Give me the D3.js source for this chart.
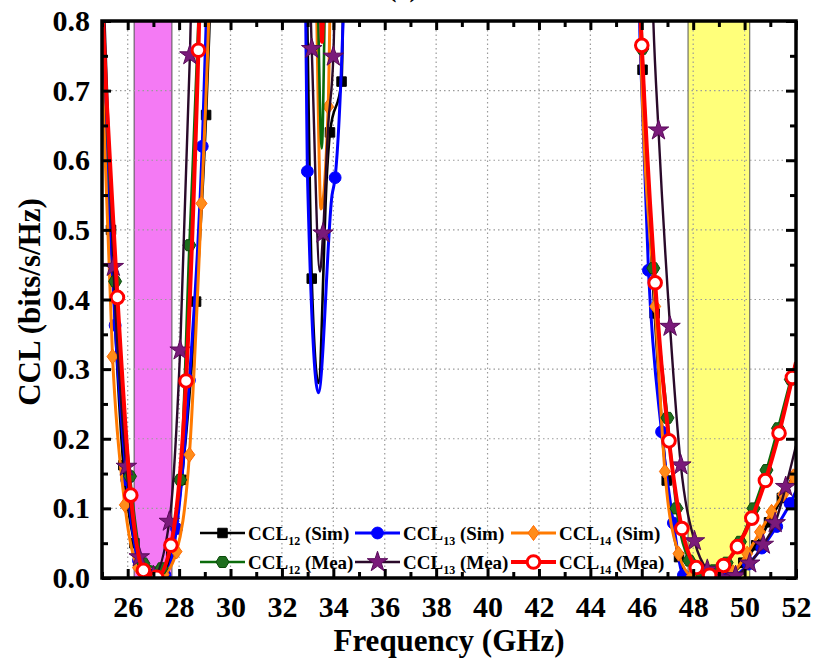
<!DOCTYPE html>
<html>
<head>
<meta charset="utf-8">
<script src="https://cdn.jsdelivr.net/npm/d3@7"></script>
<style>
  html, body { margin: 0; padding: 0; background: #fff; }
  svg { display: block; font-family: "Liberation Serif", "Times New Roman", serif; font-weight: bold; }
</style>
</head>
<body>
<svg id="chart" width="815" height="663"></svg>
<script>
// Axis ticks
const xMajorTicks = [26, 28, 30, 32, 34, 36, 38, 40, 42, 44, 46, 48, 50, 52];
const xMinorTicks = [25, 27, 29, 31, 33, 35, 37, 39, 41, 43, 45, 47, 49, 51];
const yMajorTicks = [0.0, 0.1, 0.2, 0.3, 0.4, 0.5, 0.6, 0.7, 0.8];
const yMinorTicks = [0.05, 0.15, 0.25, 0.35, 0.45, 0.55, 0.65, 0.75];

// Operating bands (GHz)
const bandLow = [26.25, 27.72];
const bandHigh = [47.8, 50.2];

// Series points: [frequency GHz, CCL bits/s/Hz, marker shown (1) or not (0)]
const ccl12Sim = [
  [24.9,1.0,0],[25.08,0.78,0],[25.35,0.50,1],[25.83,0.162,1],[26.26,0.05,1],[26.75,0.006,1],[27.25,0.0,1],[27.7,0.035,1],
  [28.1,0.141,1],[28.66,0.397,1],[29.05,0.665,1],[29.17,0.78,0],[29.35,1.0,0],
  [32.85,1.0,0],[33.16,0.43,1],[33.42,0.28,0],[33.75,0.58,0],[33.87,0.64,1],[34.32,0.713,1],[34.45,0.95,0],
  [45.8,1.0,0],[46.03,0.73,1],[46.5,0.38,1],[46.97,0.14,1],[47.45,0.03,1],[47.95,0.0,1],[48.45,0.0,1],[48.95,0.0,1],
  [49.45,0.005,1],[49.95,0.022,1],[50.45,0.047,1],[50.95,0.08,1],[51.45,0.115,1],[52.0,0.155,0]
];
const ccl13Sim = [
  [24.85,0.86,0],[25.03,0.72,0],[25.51,0.363,1],[25.96,0.141,1],[26.42,0.025,1],[26.93,0.0,1],[27.45,0.004,1],[27.9,0.071,1],
  [28.4,0.284,1],[28.9,0.62,1],[29.1,0.85,0],[29.3,1.0,0],
  [32.85,1.0,0],[32.95,0.72,0],[32.99,0.584,1],[33.42,0.266,0],[33.95,0.55,0],[34.07,0.575,1],[34.38,0.80,0],[34.5,0.95,0],
  [45.75,1.0,0],[45.95,0.75,0],[46.26,0.442,1],[46.77,0.21,1],[47.23,0.079,1],[47.62,0.004,1],[48.1,0.0,1],[48.6,0.0,1],
  [49.1,0.0,1],[49.6,0.003,1],[50.15,0.02,1],[50.67,0.043,1],[51.25,0.074,1],[51.77,0.107,1],[52.0,0.125,0]
];
const ccl14Sim = [
  [24.9,0.78,0],[25.05,0.678,0],[25.41,0.318,1],[25.89,0.105,1],[26.4,0.015,1],[26.9,0.0,1],[27.4,0.005,1],[27.9,0.038,1],
  [28.4,0.177,1],[28.87,0.538,1],[29.15,0.80,0],[29.3,1.0,0],
  [33.25,0.95,0],[33.52,0.53,0],[33.8,0.677,1],[33.95,0.95,0],
  [45.8,1.0,0],[45.97,0.75,0],[46.52,0.39,1],[46.9,0.153,1],[47.43,0.035,1],[47.95,0.003,1],[48.5,0.0,1],[49.0,0.0,1],
  [49.55,0.008,1],[50.1,0.035,1],[50.6,0.066,1],[51.05,0.095,1],[51.5,0.12,1],[51.9,0.146,1],[52.0,0.155,0]
];
const ccl12Mea = [
  [24.9,1.0,0],[25.05,0.80,0],[25.51,0.426,1],[26.09,0.146,1],[26.61,0.021,1],[27.32,0.014,1],[28.04,0.141,1],
  [28.4,0.478,1],[28.75,0.80,0],[29.0,1.1,0],
  [33.3,0.95,0],[33.55,0.617,0],[33.75,0.95,0],
  [45.8,1.0,0],[46.02,0.76,1],[46.45,0.445,1],[47.0,0.23,1],[47.35,0.10,1],[47.85,0.025,1],[48.3,0.008,1],[48.8,0.011,1],
  [49.3,0.022,1],[49.82,0.052,1],[50.35,0.10,1],[50.85,0.155,1],[51.3,0.215,1],[51.8,0.285,1],[52.0,0.31,0]
];
const ccl13Mea = [
  [24.95,1.0,0],[25.1,0.80,0],[25.44,0.447,1],[25.95,0.16,1],[26.45,0.03,1],[27.0,0.003,1],[27.62,0.081,1],
  [28.04,0.327,1],[28.42,0.751,1],[28.6,1.0,0],
  [32.95,1.0,0],[33.16,0.76,1],[33.48,0.44,0],[33.6,0.495,1],[33.8,0.65,0],[34.0,0.749,1],[34.15,0.95,0],
  [46.3,1.0,0],[46.45,0.80,0],[46.65,0.643,1],[47.1,0.361,1],[47.52,0.162,1],[48.05,0.053,1],[48.55,0.012,1],[49.1,0.0,1],
  [49.65,0.003,1],[50.2,0.021,1],[50.73,0.048,1],[51.19,0.079,1],[51.6,0.131,1],[52.0,0.19,0]
];
const ccl14Mea = [
  [24.9,0.92,0],[25.16,0.70,0],[25.6,0.403,1],[26.12,0.119,1],[26.61,0.011,1],[27.13,0.001,1],[27.68,0.047,1],
  [28.27,0.283,1],[28.75,0.758,1],[29.0,1.1,0],
  [33.45,0.95,0],[33.56,0.77,0],[33.68,0.95,0],
  [45.8,0.95,0],[46.0,0.765,1],[46.52,0.424,1],[47.06,0.197,1],[47.56,0.071,1],[48.12,0.015,1],[48.64,0.004,1],
  [49.18,0.018,1],[49.72,0.045,1],[50.28,0.086,1],[50.81,0.140,1],[51.34,0.208,1],[51.86,0.288,1],[52.0,0.31,0]
];

// Series styling, in drawing order (last drawn on top)
const series = [
  { name: "12", tag: "(Sim)", data: ccl12Sim, line: "#000000", fill: "#000000", stroke: "#000000", symbol: "square", width: 2.6 },
  { name: "13", tag: "(Sim)", data: ccl13Sim, line: "#0000ff", fill: "#0000ff", stroke: "#0000ff", symbol: "circle", width: 3 },
  { name: "14", tag: "(Sim)", data: ccl14Sim, line: "#ff7a00", fill: "#ff8c1a", stroke: "#ff6a00", symbol: "diamond", width: 3 },
  { name: "12", tag: "(Mea)", data: ccl12Mea, line: "#0b6b0b", fill: "#1e6e1e", stroke: "#0a4a0a", symbol: "hexagon", width: 2.6 },
  { name: "13", tag: "(Mea)", data: ccl13Mea, line: "#2a0a2a", fill: "#7a1a7a", stroke: "#5a0a5a", symbol: "star", width: 2.4 },
  { name: "14", tag: "(Mea)", data: ccl14Mea, line: "#ff0000", fill: "#ffffff", stroke: "#ff0000", symbol: "ring", width: 4 }
];
// Legend layout: grid position of each series
const legendOrder = [[0,0],[1,0],[2,0],[0,1],[1,1],[2,1]];

const svg = d3.select("#chart");
const x = d3.scaleLinear().domain([25, 52]).range([102, 796]);
const y = d3.scaleLinear().domain([0, 0.8]).range([578, 21]);
const [x0, x1] = x.range();
const [yb, yt] = y.range();

// Clip region for the plot
svg.append("defs").append("clipPath").attr("id", "plotClip")
  .append("rect").attr("x", x0).attr("y", yt).attr("width", x1 - x0).attr("height", yb - yt);

// Shaded bands
const bands = svg.append("g");
[[bandLow, "#f47af4"], [bandHigh, "#ffff7a"]].forEach(([b, c]) => {
  bands.append("rect")
    .attr("x", x(b[0])).attr("y", yt)
    .attr("width", x(b[1]) - x(b[0])).attr("height", yb - yt)
    .attr("fill", c).attr("stroke", "#555").attr("stroke-width", 1);
});

// Dotted grid
const grid = svg.append("g").attr("stroke", "#9a9a9a").attr("stroke-width", 1.2).attr("stroke-dasharray", "1.5,3");
xMajorTicks.filter(t => t > 25 && t < 52).forEach(t => {
  grid.append("line").attr("x1", x(t)).attr("x2", x(t)).attr("y1", yt).attr("y2", yb);
});
yMajorTicks.filter(t => t > 0 && t < 0.8).forEach(t => {
  grid.append("line").attr("x1", x0).attr("x2", x1).attr("y1", y(t)).attr("y2", y(t));
});

// Marker shapes
function markerPath(kind) {
  switch (kind) {
    case "square": return d3.symbol(d3.symbolSquare, 90)();
    case "circle": return d3.symbol(d3.symbolCircle, 110)();
    case "diamond": return "M0,-7.5L5.5,0L0,7.5L-5.5,0Z";
    case "hexagon": return "M-6.5,0L-3.2,-5.5L3.2,-5.5L6.5,0L3.2,5.5L-3.2,5.5Z";
    case "star": return d3.symbol(d3.symbolStar, 130)();
    case "ring": return d3.symbol(d3.symbolCircle, 125)();
  }
}

// Curves and markers
const plot = svg.append("g").attr("clip-path", "url(#plotClip)");
const lineGen = d3.line().x(d => x(d[0])).y(d => y(d[1])).curve(d3.curveMonotoneX);
series.forEach(s => {
  plot.append("path").datum(s.data)
    .attr("d", lineGen).attr("fill", "none")
    .attr("stroke", s.line).attr("stroke-width", s.width).attr("stroke-linejoin", "round");
  plot.append("g").selectAll("path")
    .data(s.data.filter(d => d[2] === 1))
    .join("path")
    .attr("transform", d => `translate(${x(d[0])},${y(d[1])})`)
    .attr("d", markerPath(s.symbol))
    .attr("fill", s.fill)
    .attr("stroke", s.stroke)
    .attr("stroke-width", s.symbol === "ring" ? 3 : 1);
});

// Axes with inward ticks
const fmtY = d3.format(".1f");
function styleAxis(g) {
  g.select(".domain").remove();
  g.selectAll(".tick line").attr("stroke", "#000").attr("stroke-width", 3);
  g.selectAll(".tick text").attr("fill", "#000").attr("font-size", 30).attr("font-weight", "bold")
    .attr("font-family", "Liberation Serif, Times New Roman, serif");
}
svg.append("g").attr("transform", `translate(0,${yb})`)
  .call(d3.axisBottom(x).tickValues(xMajorTicks).tickSize(-9).tickPadding(18).tickFormat(d3.format("d")))
  .call(styleAxis);
svg.append("g").attr("transform", `translate(0,${yb})`)
  .call(d3.axisBottom(x).tickValues(xMinorTicks).tickSize(-6).tickFormat(""))
  .call(styleAxis);
svg.append("g").attr("transform", `translate(0,${yt})`)
  .call(d3.axisTop(x).tickValues(xMajorTicks).tickSize(-9).tickFormat(""))
  .call(styleAxis);
svg.append("g").attr("transform", `translate(0,${yt})`)
  .call(d3.axisTop(x).tickValues(xMinorTicks).tickSize(-6).tickFormat(""))
  .call(styleAxis);
svg.append("g").attr("transform", `translate(${x0},0)`)
  .call(d3.axisLeft(y).tickValues(yMajorTicks).tickSize(-9).tickPadding(12).tickFormat(fmtY))
  .call(styleAxis);
svg.append("g").attr("transform", `translate(${x0},0)`)
  .call(d3.axisLeft(y).tickValues(yMinorTicks).tickSize(-6).tickFormat(""))
  .call(styleAxis);
svg.append("g").attr("transform", `translate(${x1},0)`)
  .call(d3.axisRight(y).tickValues(yMajorTicks).tickSize(-10).tickFormat(""))
  .call(styleAxis);
svg.append("g").attr("transform", `translate(${x1},0)`)
  .call(d3.axisRight(y).tickValues(yMinorTicks).tickSize(-6).tickFormat(""))
  .call(styleAxis);

// Plot frame
svg.append("rect").attr("x", x0).attr("y", yt).attr("width", x1 - x0).attr("height", yb - yt)
  .attr("fill", "none").attr("stroke", "#000").attr("stroke-width", 3.5);

// Axis titles and panel label (the panel label sits at the very top edge)
svg.append("text").attr("x", (x0 + x1) / 2).attr("y", 651).attr("text-anchor", "middle")
  .attr("font-size", 31).text("Frequency (GHz)");
svg.append("text").attr("transform", "translate(40,302) rotate(-90)").attr("text-anchor", "middle")
  .attr("font-size", 31).text("CCL (bits/s/Hz)");
svg.append("text").attr("x", 403).attr("y", -3).attr("text-anchor", "middle")
  .attr("font-size", 26).text("(a)");

// Legend
const colX = [200, 355, 511];
const rowY = [533, 562];
const legend = svg.append("g");
series.forEach((s, i) => {
  const [c, r] = legendOrder[i];
  const g = legend.append("g").attr("transform", `translate(${colX[c]},${rowY[r]})`);
  g.append("line").attr("x1", 0).attr("x2", 45).attr("y1", 0).attr("y2", 0)
    .attr("stroke", s.line).attr("stroke-width", s.width);
  g.append("path").attr("transform", "translate(22.5,0)").attr("d", markerPath(s.symbol))
    .attr("fill", s.fill).attr("stroke", s.stroke).attr("stroke-width", s.symbol === "ring" ? 3 : 1);
  const t = g.append("text").attr("x", 48).attr("y", 7).attr("font-size", 19);
  t.append("tspan").text("CCL");
  t.append("tspan").attr("font-size", 12).attr("dy", 5).text(s.name);
  t.append("tspan").attr("dy", -5).text(" " + s.tag);
});
</script>
</body>
</html>
